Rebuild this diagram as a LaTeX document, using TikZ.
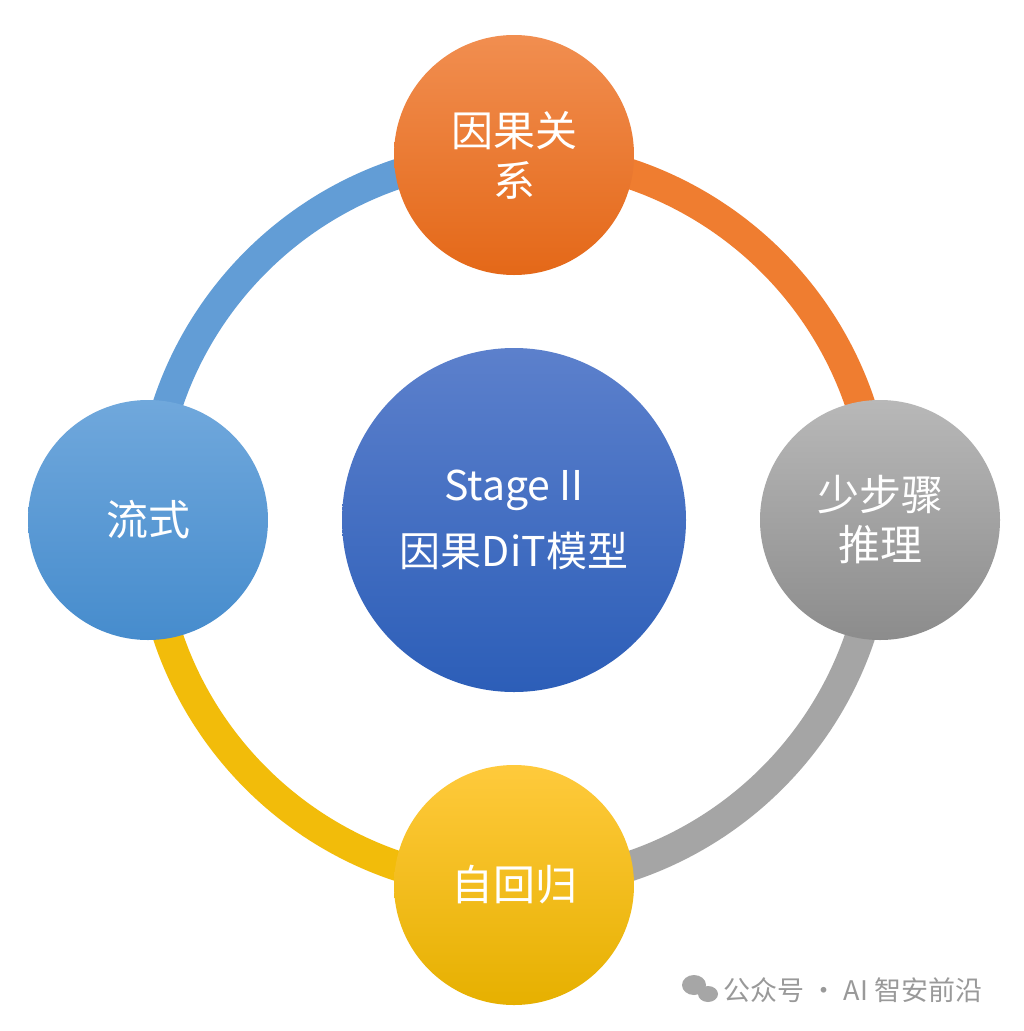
\documentclass[tikz,border=0pt]{standalone}
\usepackage{fontspec}
\setmainfont{Noto Sans CJK SC}
\begin{document}
\begin{tikzpicture}[x=1pt,y=-1pt,
  ring/.style={line width=30pt},
  ball/.style={circle,minimum size=240pt,inner sep=0pt,text=white,align=center,font=\fontsize{42}{50}\selectfont},
  wmark/.style={text=gray!80,font=\fontsize{27}{30}\selectfont}]
\useasboundingbox[fill=white] (0,0) rectangle (1023,1031);
\coordinate (o) at (514,520);
\draw[ring,color={rgb,255:red,98;green,157;blue,214}] (149,520) arc[start angle=180,end angle=270,radius=365];
\draw[ring,color={rgb,255:red,239;green,125;blue,48}] (514,155) arc[start angle=270,end angle=360,radius=365];
\draw[ring,color={rgb,255:red,165;green,165;blue,165}] (879,520) arc[start angle=0,end angle=90,radius=365];
\draw[ring,color={rgb,255:red,242;green,188;blue,10}] (514,885) arc[start angle=90,end angle=180,radius=365];
\node[ball,top color={rgb,255:red,241;green,142;blue,80},bottom color={rgb,255:red,228;green,104;blue,24}] (top) at (514,155) {因果关\\系};
\node[ball,top color={rgb,255:red,112;green,168;blue,220},bottom color={rgb,255:red,70;green,140;blue,205}] (left) at (148,520) {流式};
\node[ball,top color={rgb,255:red,184;green,184;blue,184},bottom color={rgb,255:red,140;green,140;blue,140}] (right) at (880,520) {少步骤\\推理};
\node[ball,top color={rgb,255:red,255;green,202;blue,60},bottom color={rgb,255:red,230;green,176;blue,0}] (bot) at (514,885) {自回归};
\node[ball,minimum size=344pt,font=\fontsize{41}{66}\selectfont,top color={rgb,255:red,92;green,128;blue,204},bottom color={rgb,255:red,44;green,94;blue,184}] (c) at (514,520) {Stage II\\因果DiT模型};
\node[wmark,anchor=west] (wm) at (720,990) {公众号 · AI 智安前沿};
\fill[gray!70] (694,985) ellipse[x radius=12pt,y radius=10pt];
\fill[gray!70] (708,994) ellipse[x radius=10pt,y radius=8pt];
\end{tikzpicture}
\end{document}
